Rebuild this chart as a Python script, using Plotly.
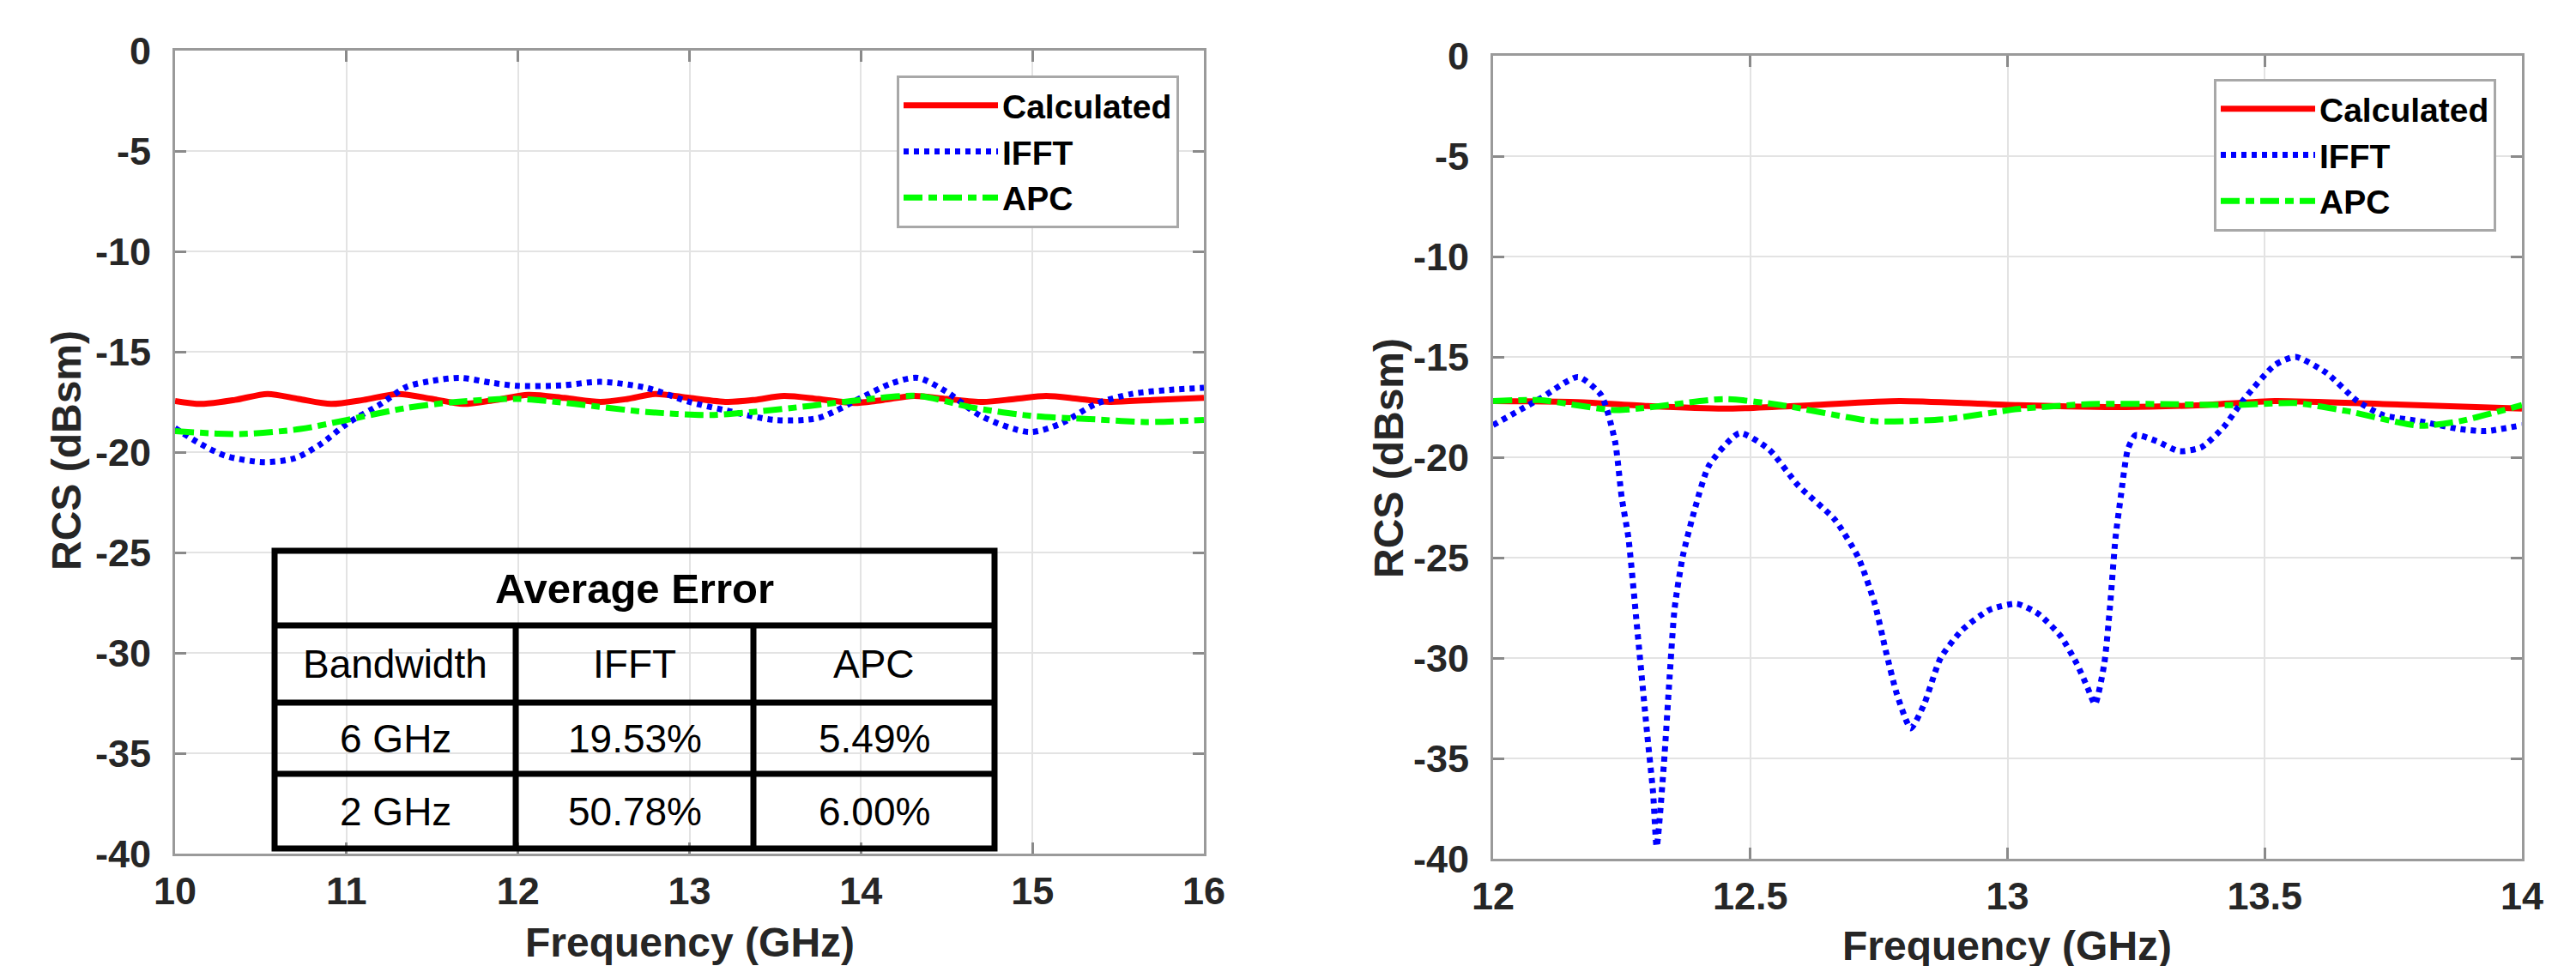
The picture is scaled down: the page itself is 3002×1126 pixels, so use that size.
import plotly.graph_objects as go

W, H = 3002, 1126

# ---------------- data ----------------
# Left panel (10-16 GHz)
f_calc_l = [10.0, 10.15, 10.35, 10.54, 10.72, 10.91, 11.1, 11.30, 11.5, 11.68, 11.87, 12.06, 12.27, 12.48,
            12.64, 12.80, 13.0, 13.22, 13.38, 13.55, 13.75, 13.96, 14.13, 14.31, 14.5, 14.71, 14.9, 15.08,
            15.27, 15.45, 15.7, 16.0]
rcs_calc_l = [-17.45, -17.6, -17.4, -17.1, -17.35, -17.6, -17.4, -17.1, -17.35, -17.6, -17.4, -17.15, -17.3, -17.5,
              -17.35, -17.1, -17.3, -17.5, -17.4, -17.2, -17.35, -17.55, -17.4, -17.2, -17.35, -17.5, -17.35, -17.2,
              -17.35, -17.5, -17.4, -17.3]

f_ifft_l = [10.0, 10.15, 10.3, 10.52, 10.7, 10.85, 11.0, 11.2, 11.35, 11.5, 11.66, 11.85, 12.0, 12.25, 12.48,
            12.75, 13.0, 13.2, 13.5, 13.75, 14.0, 14.17, 14.33, 14.5, 14.7, 14.98, 15.16, 15.37, 15.58, 15.8, 16.0]
rcs_ifft_l = [-18.8, -19.6, -20.2, -20.5, -20.3, -19.6, -18.6, -17.6, -16.75, -16.45, -16.3, -16.55, -16.7, -16.68,
              -16.5, -16.8, -17.5, -17.9, -18.4, -18.3, -17.3, -16.6, -16.3, -17.0, -18.2, -19.0, -18.6, -17.6,
              -17.1, -16.9, -16.8]

f_apc_l = [10.0, 10.37, 10.73, 11.0, 11.35, 11.64, 12.0, 12.33, 12.75, 13.12, 13.37, 13.7, 14.0, 14.33, 14.66,
           15.0, 15.33, 15.66, 16.0]
rcs_apc_l = [-18.95, -19.1, -18.85, -18.4, -17.8, -17.5, -17.35, -17.6, -18.0, -18.15, -18.0, -17.7, -17.4, -17.2,
             -17.8, -18.2, -18.35, -18.5, -18.4]

# Right panel (12-14 GHz)
f_calc_r = [12.0, 12.165, 12.3, 12.45, 12.62, 12.79, 13.02, 13.23, 13.38, 13.52, 13.73, 14.0]
rcs_calc_r = [-17.2, -17.25, -17.45, -17.58, -17.4, -17.2, -17.4, -17.5, -17.4, -17.2, -17.35, -17.58]

f_apc_r = [12.0, 12.09, 12.24, 12.45, 12.56, 12.74, 12.88, 13.02, 13.16, 13.3, 13.44, 13.56, 13.66, 13.8,
           13.88, 14.0]
rcs_apc_r = [-17.2, -17.15, -17.65, -17.1, -17.4, -18.2, -18.1, -17.6, -17.35, -17.35, -17.4, -17.3, -17.7,
             -18.43, -18.2, -17.4]

f_ifft_r = [12.0, 12.09, 12.165, 12.21, 12.237, 12.25, 12.263, 12.28, 12.30, 12.311, 12.318, 12.332, 12.343,
            12.353, 12.369, 12.393, 12.42, 12.479, 12.536, 12.593, 12.664, 12.71, 12.742, 12.763, 12.785, 12.812,
            12.838, 12.870, 12.912, 12.965, 13.018, 13.060, 13.103, 13.135, 13.156, 13.170, 13.188, 13.199,
            13.21, 13.22, 13.234, 13.249, 13.29, 13.334, 13.377, 13.42, 13.46, 13.52, 13.56, 13.62, 13.68,
            13.73, 13.80, 13.88, 13.93, 14.0]
rcs_ifft_r = [-18.4, -17.1, -16.0, -16.9, -19.2, -22.0, -24.0, -28.5, -33.9, -36.7, -39.4, -35.3, -31.0,
              -27.5, -24.9, -22.5, -20.4, -18.8, -19.6, -21.4, -23.1, -25.0, -27.3, -29.6, -31.8, -33.5,
              -32.3, -30.0, -28.6, -27.6, -27.3, -27.8, -28.9, -30.3, -31.5, -32.3, -30.3, -27.5,
              -24.0, -22.0, -19.6, -18.9, -19.2, -19.7, -19.5, -18.5, -17.1, -15.4, -15.0, -15.8, -17.2,
              -17.9, -18.2, -18.6, -18.7, -18.4]

series_names = ["Calculated", "IFFT", "APC"]

left_ticks_x = [10, 11, 12, 13, 14, 15, 16]
left_ticktext_x = ["10", "11", "12", "13", "14", "15", "16"]
right_ticks_x = [12, 12.5, 13, 13.5, 14]
right_ticktext_x = ["12", "12.5", "13", "13.5", "14"]
ticks_y = [0, -5, -10, -15, -20, -25, -30, -35, -40]
ticktext_y = ["0", "-5", "-10", "-15", "-20", "-25", "-30", "-35", "-40"]

table_title = "Average Error"
table_columns = ["Bandwidth", "IFFT", "APC"]
table_bandwidth = ["6 GHz", "2 GHz"]
table_ifft = ["19.53%", "50.78%"]
table_apc = ["5.49%", "6.00%"]

# ---------------- helpers ----------------
def px(x):
    return x / W


def py(y):
    return 1 - y / H


FONT = "Liberation Sans, Arial, Helvetica, sans-serif"
TICK_COLOR = "#262626"

styles = {
    "Calculated": dict(color="#ff0000", width=7, dash="solid"),
    "IFFT": dict(color="#0000ff", width=7, dash="6px,6px"),
    "APC": dict(color="#00ff00", width=7, dash="22px,7px,10px,7px"),
}

fig = go.Figure()

left_data = [(f_calc_l, rcs_calc_l), (f_ifft_l, rcs_ifft_l), (f_apc_l, rcs_apc_l)]
right_data = [(f_calc_r, rcs_calc_r), (f_ifft_r, rcs_ifft_r), (f_apc_r, rcs_apc_r)]

for name, (xs, ys) in zip(series_names, left_data):
    fig.add_trace(go.Scatter(x=xs, y=ys, mode="lines", name=name,
                             line=dict(**styles[name], shape="spline", smoothing=0.8),
                             xaxis="x", yaxis="y", legend="legend"))
for name, (xs, ys) in zip(series_names, right_data):
    fig.add_trace(go.Scatter(x=xs, y=ys, mode="lines", name=name,
                             line=dict(**styles[name], shape="spline", smoothing=0.6),
                             xaxis="x2", yaxis="y2", legend="legend2"))

axis_common = dict(
    showline=True, linecolor="#9a9a9a", linewidth=3, mirror="ticks",
    ticks="inside", ticklen=13, tickwidth=3, tickcolor="#8a8a8a",
    showgrid=True, gridcolor="#e3e3e3", gridwidth=2,
    zeroline=False, automargin=False,
    tickfont=dict(family=FONT, size=45, color=TICK_COLOR, weight="bold"),
)

legend_common = dict(bgcolor="white", bordercolor="#a8a8a8", borderwidth=3,
                     itemwidth=110, tracegroupgap=0,
                     font=dict(family=FONT, size=39, color="#000000", weight="bold"))

fig.update_layout(
    width=W, height=H, autosize=False,
    margin=dict(l=0, r=0, t=0, b=0, pad=0),
    paper_bgcolor="white", plot_bgcolor="white",
    xaxis=dict(domain=[px(196), px(1395)], range=[10, 16], tickvals=left_ticks_x, ticktext=left_ticktext_x,
               anchor="y", ticklabelstandoff=2, **axis_common),
    yaxis=dict(domain=[py(987), py(51)], range=[-40, 0], tickvals=ticks_y, ticktext=ticktext_y, anchor="x",
               ticklabelstandoff=16, **axis_common),
    xaxis2=dict(domain=[px(1732), px(2931)], range=[12, 14], tickvals=right_ticks_x,
                ticktext=right_ticktext_x, anchor="y2", ticklabelstandoff=2, **axis_common),
    yaxis2=dict(domain=[py(993), py(57)], range=[-40, 0], tickvals=ticks_y, ticktext=ticktext_y, anchor="x2",
                ticklabelstandoff=16, **axis_common),
    legend=dict(x=px(1366), xanchor="right", y=py(80), yanchor="top", **legend_common),
    legend2=dict(x=px(2901), xanchor="right", y=py(84), yanchor="top", **legend_common),
)

# Axis titles
title_font = dict(family=FONT, size=48, color=TICK_COLOR, weight="bold")
annotations = [
    dict(text="Frequency (GHz)", x=px(796), y=py(1090), xref="paper", yref="paper",
         xanchor="center", yanchor="middle", showarrow=False, font=title_font),
    dict(text="Frequency (GHz)", x=px(2331), y=py(1094), xref="paper", yref="paper",
         xanchor="center", yanchor="middle", showarrow=False, font=title_font),
    dict(text="RCS (dBsm)", x=px(70), y=py(517), xref="paper", yref="paper", textangle=-90,
         xanchor="center", yanchor="middle", showarrow=False, font=title_font),
    dict(text="RCS (dBsm)", x=px(1610), y=py(526), xref="paper", yref="paper", textangle=-90,
         xanchor="center", yanchor="middle", showarrow=False, font=title_font),
]

# Inset table (error summary)
t_left, t_right, t_top, t_bottom = 312, 1151, 634, 981
row_lines = [721, 811, 894]
col_lines = [593, 870]
lw = 7
shapes = [dict(type="rect", xref="paper", yref="paper", x0=px(t_left), x1=px(t_right), y0=py(t_bottom), y1=py(t_top),
               line=dict(color="black", width=lw), layer="above")]
for r in row_lines:
    shapes.append(dict(type="line", xref="paper", yref="paper", x0=px(t_left), x1=px(t_right), y0=py(r), y1=py(r),
                       line=dict(color="black", width=lw), layer="above"))
for c in col_lines:
    shapes.append(dict(type="line", xref="paper", yref="paper", x0=px(c), x1=px(c), y0=py(row_lines[0]), y1=py(t_bottom),
                       line=dict(color="black", width=lw), layer="above"))

col_centers = [(t_left + col_lines[0]) / 2, (col_lines[0] + col_lines[1]) / 2, (col_lines[1] + t_right) / 2]
row_bounds = [t_top] + row_lines + [t_bottom]
row_centers = [(row_bounds[i] + row_bounds[i + 1]) / 2 for i in range(4)]

annotations.append(dict(text=table_title, x=px((t_left + t_right) / 2), y=py(row_centers[0]), xref="paper", yref="paper",
                        xanchor="center", yanchor="middle", showarrow=False,
                        font=dict(family=FONT, size=49, color="black", weight="bold")))
cell_font = dict(family=FONT, size=46, color="black")
for j, txt in enumerate(table_columns):
    annotations.append(dict(text=txt, x=px(col_centers[j]), y=py(row_centers[1]), xref="paper", yref="paper",
                            xanchor="center", yanchor="middle", showarrow=False, font=cell_font))
for i in range(len(table_bandwidth)):
    for j, txt in enumerate([table_bandwidth[i], table_ifft[i], table_apc[i]]):
        annotations.append(dict(text=txt, x=px(col_centers[j]), y=py(row_centers[2 + i]), xref="paper", yref="paper",
                                xanchor="center", yanchor="middle", showarrow=False, font=cell_font))

fig.update_layout(annotations=annotations, shapes=shapes)

fig.write_html("out.html")
